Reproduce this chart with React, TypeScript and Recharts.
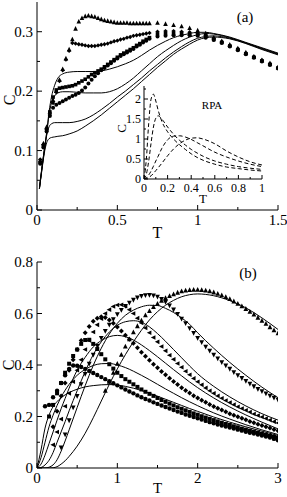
import React from 'react';
import { ComposedChart, Line, Scatter, XAxis, YAxis } from 'recharts';

const FONT = '"Liberation Serif", "Times New Roman", Times, serif';

// ---------------- Panel (a) : solid curves ----------------
const TA_L = [0.015,0.03,0.045,0.06,0.075,0.09,0.11,0.13,0.16,0.2,0.25,0.3,0.35,0.4,0.45,0.5,0.55,0.6,0.65,0.7,0.75,0.8,0.85,0.9,0.95,1.0,1.05,1.1,1.2,1.3,1.4,1.5];
const LA1 = [0.036,0.07,0.1,0.13,0.165,0.19,0.21,0.222,0.229,0.232,0.233,0.233,0.233,0.234,0.237,0.241,0.246,0.252,0.26,0.269,0.277,0.284,0.29,0.294,0.297,0.299,0.299,0.297,0.291,0.282,0.273,0.264];
const LA2 = [0.036,0.07,0.1,0.128,0.16,0.18,0.192,0.197,0.199,0.199,0.198,0.197,0.197,0.197,0.199,0.204,0.212,0.222,0.234,0.246,0.258,0.268,0.277,0.285,0.291,0.295,0.297,0.296,0.29,0.281,0.272,0.263];
const LA3 = [0.036,0.068,0.098,0.125,0.14,0.145,0.147,0.147,0.147,0.147,0.149,0.153,0.16,0.169,0.179,0.19,0.2,0.211,0.222,0.234,0.245,0.256,0.266,0.275,0.283,0.289,0.292,0.293,0.289,0.281,0.271,0.262];
const LA4 = [0.036,0.066,0.095,0.113,0.12,0.122,0.123,0.124,0.125,0.128,0.133,0.141,0.15,0.16,0.171,0.182,0.193,0.204,0.216,0.228,0.24,0.251,0.262,0.271,0.279,0.286,0.29,0.291,0.288,0.28,0.27,0.261];

// ---------------- Panel (a) : symbols ----------------
const TA_P = [0.02,0.04,0.06,0.08,0.1,0.12,0.14,0.16,0.18,0.2,0.22,0.24,0.26,0.28,0.3,0.32,0.34,0.36,0.38,0.4,0.42,0.44,0.46,0.48,0.5,0.52,0.54,0.56,0.58,0.6,0.62,0.64,0.66,0.68,0.7,0.75,0.8,0.85,0.9,0.95,1.0,1.05,1.1,1.15,1.2,1.25,1.3,1.35,1.4,1.45,1.5];
const MA_TRI = [0.083,0.112,0.14,0.165,0.185,0.2,0.219,0.237,0.255,0.27,0.287,0.305,0.317,0.323,0.326,0.327,0.326,0.325,0.323,0.321,0.319,0.318,0.317,0.316,0.315,0.315,0.315,0.315,0.314,0.314,0.314,0.314,0.314,0.314,0.314,0.315,0.313,0.311,0.309,0.306,0.302,0.297,0.29,0.284,0.278,0.272,0.265,0.258,0.252,0.247,0.24];
const MA_DIA = [0.085,0.11,0.136,0.16,0.18,0.198,0.217,0.235,0.253,0.268,0.281,0.28,0.279,0.278,0.277,0.276,0.276,0.276,0.277,0.278,0.279,0.28,0.282,0.284,0.285,0.287,0.288,0.29,0.291,0.293,0.294,0.295,0.296,0.297,0.298,0.3,0.301,0.301,0.3,0.299,0.297,0.294,0.289,0.283,0.277,0.271,0.264,0.258,0.252,0.246,0.24];
const MA_SQ = [0.08,0.108,0.135,0.165,0.19,0.202,0.205,0.206,0.207,0.208,0.209,0.211,0.214,0.217,0.22,0.224,0.228,0.231,0.234,0.237,0.241,0.245,0.249,0.253,0.257,0.261,0.264,0.267,0.27,0.273,0.277,0.28,0.284,0.287,0.29,0.296,0.297,0.297,0.297,0.296,0.295,0.292,0.287,0.282,0.276,0.27,0.263,0.257,0.251,0.245,0.239];
const MA_CIR = [0.078,0.105,0.132,0.158,0.172,0.177,0.18,0.183,0.186,0.189,0.192,0.194,0.197,0.201,0.206,0.213,0.219,0.225,0.23,0.235,0.239,0.243,0.247,0.251,0.255,0.259,0.262,0.265,0.268,0.271,0.275,0.278,0.282,0.285,0.288,0.292,0.293,0.294,0.294,0.294,0.293,0.29,0.286,0.281,0.275,0.269,0.262,0.256,0.25,0.244,0.238];

// ---------------- Inset (RPA) ----------------
const TI = [0,0.02,0.04,0.06,0.08,0.1,0.12,0.15,0.2,0.25,0.3,0.35,0.4,0.45,0.5,0.6,0.7,0.8,0.9,1.0];
const IA = [0,0.5,1.4,2.0,2.12,1.95,1.72,1.45,1.18,1.0,0.86,0.74,0.63,0.54,0.47,0.37,0.3,0.26,0.225,0.2];
const IB = [0,0.12,0.45,0.9,1.3,1.52,1.58,1.5,1.3,1.12,0.97,0.85,0.74,0.65,0.57,0.45,0.37,0.31,0.27,0.24];
const IC = [0,0.03,0.1,0.2,0.32,0.45,0.57,0.76,0.98,1.07,1.08,1.05,0.99,0.91,0.83,0.67,0.55,0.45,0.37,0.31];
const ID = [0,0.01,0.04,0.08,0.14,0.21,0.28,0.39,0.58,0.75,0.88,0.97,1.02,1.03,1.0,0.88,0.7,0.55,0.43,0.35];

// ---------------- Panel (b) : solid curves ----------------
const TB_L = [0,0.05,0.1,0.15,0.2,0.25,0.3,0.35,0.4,0.5,0.6,0.7,0.8,0.9,1.0,1.1,1.2,1.3,1.4,1.5,1.6,1.7,1.8,1.9,2.0,2.2,2.4,2.6,2.8,3.0];
const LB1 = [0,0.07,0.155,0.205,0.238,0.258,0.273,0.284,0.293,0.306,0.315,0.32,0.323,0.324,0.322,0.317,0.31,0.301,0.29,0.279,0.267,0.255,0.243,0.231,0.22,0.198,0.178,0.16,0.143,0.126];
const LB2 = [0,0.04,0.1,0.16,0.205,0.243,0.275,0.302,0.325,0.36,0.383,0.398,0.405,0.406,0.4,0.39,0.376,0.36,0.343,0.325,0.307,0.29,0.273,0.257,0.242,0.214,0.19,0.168,0.148,0.13];
const LB3 = [0,0.015,0.05,0.095,0.14,0.186,0.23,0.27,0.31,0.38,0.43,0.47,0.495,0.51,0.515,0.51,0.497,0.478,0.456,0.432,0.407,0.382,0.358,0.334,0.312,0.272,0.237,0.206,0.178,0.152];
const LB4 = [0,0.002,0.012,0.03,0.06,0.1,0.14,0.18,0.222,0.3,0.375,0.44,0.49,0.528,0.554,0.568,0.572,0.566,0.548,0.522,0.492,0.46,0.428,0.396,0.366,0.317,0.276,0.241,0.211,0.186];
const LB5 = [0,0,0,0.003,0.012,0.032,0.065,0.105,0.148,0.235,0.32,0.398,0.465,0.52,0.562,0.593,0.613,0.626,0.632,0.631,0.62,0.604,0.583,0.558,0.525,0.465,0.41,0.36,0.314,0.273];
const LB6 = [0,0,0,0,0.001,0.005,0.015,0.028,0.045,0.085,0.135,0.195,0.26,0.325,0.385,0.44,0.49,0.535,0.575,0.607,0.632,0.651,0.665,0.673,0.676,0.669,0.65,0.622,0.583,0.538];

// ---------------- Panel (b) : symbols ----------------
const TB_P = [0.1,0.15,0.2,0.25,0.3,0.35,0.4,0.45,0.5,0.55,0.6,0.65,0.7,0.75,0.8,0.85,0.9,0.95,1.0,1.05,1.1,1.15,1.2,1.25,1.3,1.35,1.4,1.45,1.5,1.55,1.6,1.65,1.7,1.75,1.8,1.85,1.9,1.95,2.0,2.05,2.1,2.15,2.2,2.25,2.3,2.35,2.4,2.45,2.5,2.55,2.6,2.65,2.7,2.75,2.8,2.85,2.9,2.95,3.0];
const MB1 = [0.24,0.245,0.275,0.3,0.33,0.36,0.385,0.398,0.397,0.392,0.385,0.377,0.369,0.361,0.353,0.345,0.337,0.329,0.321,0.313,0.305,0.297,0.29,0.282,0.275,0.268,0.262,0.255,0.249,0.243,0.237,0.231,0.225,0.219,0.214,0.208,0.203,0.198,0.193,0.188,0.183,0.178,0.174,0.169,0.165,0.161,0.157,0.153,0.149,0.145,0.141,0.137,0.134,0.13,0.126,0.122,0.118,0.113,0.108];
const MB2 = [null,0.2,0.245,0.29,0.33,0.37,0.405,0.435,0.46,0.482,0.497,0.498,0.482,0.462,0.442,0.422,0.403,0.386,0.37,0.357,0.345,0.335,0.325,0.315,0.305,0.296,0.288,0.28,0.272,0.264,0.257,0.25,0.243,0.236,0.23,0.224,0.218,0.212,0.207,0.201,0.196,0.191,0.186,0.181,0.176,0.171,0.167,0.162,0.158,0.153,0.149,0.145,0.141,0.137,0.133,0.129,0.125,0.121,0.117];
const MB3 = [null,null,0.16,0.22,0.28,0.33,0.38,0.42,0.46,0.495,0.525,0.55,0.57,0.582,0.587,0.584,0.575,0.562,0.548,0.532,0.516,0.5,0.484,0.467,0.45,0.434,0.418,0.403,0.389,0.375,0.362,0.349,0.336,0.324,0.312,0.301,0.291,0.281,0.272,0.263,0.255,0.247,0.239,0.232,0.225,0.218,0.211,0.205,0.199,0.193,0.187,0.181,0.176,0.17,0.165,0.16,0.155,0.15,0.145];
const MB4 = [null,null,0.09,0.14,0.19,0.24,0.29,0.335,0.38,0.42,0.46,0.495,0.528,0.556,0.58,0.6,0.615,0.627,0.633,0.634,0.628,0.615,0.6,0.582,0.563,0.544,0.525,0.507,0.49,0.472,0.455,0.438,0.422,0.406,0.391,0.376,0.362,0.348,0.335,0.323,0.311,0.3,0.29,0.28,0.271,0.262,0.254,0.246,0.238,0.231,0.224,0.217,0.21,0.204,0.198,0.192,0.186,0.18,0.175];
const MB5 = [null,null,null,null,0.08,0.13,0.185,0.235,0.28,0.325,0.365,0.405,0.44,0.475,0.505,0.532,0.556,0.578,0.597,0.614,0.629,0.642,0.653,0.662,0.668,0.671,0.672,0.67,0.665,0.656,0.645,0.631,0.615,0.598,0.58,0.562,0.543,0.524,0.505,0.488,0.471,0.455,0.44,0.425,0.411,0.398,0.385,0.372,0.36,0.349,0.338,0.327,0.317,0.307,0.298,0.289,0.281,0.273,0.265];
const MB6 = [null,null,null,null,null,null,null,null,null,null,null,null,null,null,null,0.3,0.335,0.37,0.405,0.44,0.472,0.5,0.527,0.551,0.573,0.593,0.61,0.625,0.638,0.65,0.66,0.668,0.675,0.681,0.686,0.689,0.691,0.692,0.692,0.691,0.689,0.686,0.682,0.677,0.671,0.664,0.656,0.647,0.638,0.628,0.618,0.607,0.596,0.584,0.572,0.56,0.547,0.535,0.523];

// ---------------- axis ticks ----------------
const A_XTICKS = [0,0.25,0.5,0.75,1,1.25,1.5];
const A_XMAJ = [0,0.5,1,1.5];
const A_YTICKS = [0,0.05,0.1,0.15,0.2,0.25,0.3];
const A_YMAJ = [0,0.1,0.2,0.3];
const B_XTICKS = [0,0.5,1,1.5,2,2.5,3];
const B_XMAJ = [0,1,2,3];
const B_YTICKS = [0,0.1,0.2,0.3,0.4,0.5,0.6,0.7,0.8];
const B_YMAJ = [0,0.2,0.4,0.6,0.8];
const I_XTICKS = [0,0.1,0.2,0.3,0.4,0.5,0.6,0.7,0.8,0.9,1];
const I_XMAJ = [0,0.2,0.4,0.6,0.8,1];
const I_YTICKS = [0,0.25,0.5,0.75,1,1.25,1.5,1.75,2,2.25];
const I_YMAJ = [0,0.5,1,1.5,2];

const pts = (xs: number[], ys: (number | null)[]) =>
  xs.map((x, i) => ({ x, y: ys[i] })).filter((p) => p.y !== null && p.y !== undefined);

// ---------------- symbol shapes ----------------
const K = '#000';
const circ = (r: number) => (p: any) => <circle cx={p.cx} cy={p.cy} r={r} fill={K} />;
const sq = (s: number) => (p: any) => <rect x={p.cx - s / 2} y={p.cy - s / 2} width={s} height={s} fill={K} />;
const dia = (s: number) => (p: any) => (
  <polygon points={`${p.cx},${p.cy - s / 2} ${p.cx + s / 2},${p.cy} ${p.cx},${p.cy + s / 2} ${p.cx - s / 2},${p.cy}`} fill={K} />
);
const triUp = (s: number) => (p: any) => (
  <polygon points={`${p.cx},${p.cy - s * 0.58} ${p.cx + s / 2},${p.cy + s * 0.42} ${p.cx - s / 2},${p.cy + s * 0.42}`} fill={K} />
);
const triDown = (s: number) => (p: any) => (
  <polygon points={`${p.cx},${p.cy + s * 0.58} ${p.cx + s / 2},${p.cy - s * 0.42} ${p.cx - s / 2},${p.cy - s * 0.42}`} fill={K} />
);
const triLeft = (s: number) => (p: any) => (
  <polygon points={`${p.cx - s * 0.58},${p.cy} ${p.cx + s * 0.42},${p.cy - s / 2} ${p.cx + s * 0.42},${p.cy + s / 2}`} fill={K} />
);

const txtStyle = (size: number): React.CSSProperties => ({ fontFamily: FONT, fontSize: size, fill: K });

// ---------------- tick renderer (inward ticks) ----------------
const isIn = (arr: number[], v: number) => arr.some((m) => Math.abs(m - v) < 1e-6);
const tick = (side: string, majors: number[], font: number, majLen: number, minLen: number, gap: number) => (props: any) => {
  const { x, y, payload } = props;
  const v = payload.value;
  const major = isIn(majors, v);
  const len = major ? majLen : minLen;
  const ls = { stroke: K, strokeWidth: 1 };
  if (side === 'bottom')
    return (
      <g>
        <line x1={x} y1={y} x2={x} y2={y - len} {...ls} />
        {major && gap > 0 ? (
          <text x={x} y={y + gap} textAnchor="middle" dominantBaseline="central" style={txtStyle(font)}>{String(v)}</text>
        ) : null}
      </g>
    );
  if (side === 'top') return <line x1={x} y1={y} x2={x} y2={y + len} {...ls} />;
  if (side === 'left')
    return (
      <g>
        <line x1={x} y1={y} x2={x + len} y2={y} {...ls} />
        {major && gap > 0 ? (
          <text x={x - gap} y={y} textAnchor="end" dominantBaseline="central" style={txtStyle(font)}>{String(v)}</text>
        ) : null}
      </g>
    );
  return <line x1={x} y1={y} x2={x - len} y2={y} {...ls} />;
};

const xLabel = (text: string, dy: number, size: number, dx = 0) => (p: any) => {
  const vb = p.viewBox;
  return (
    <text x={vb.x + vb.width / 2 + dx} y={vb.y + dy} textAnchor="middle" dominantBaseline="central" style={txtStyle(size)}>
      {text}
    </text>
  );
};
const yLabel = (text: string, dx: number, size: number, dy = 0) => (p: any) => {
  const vb = p.viewBox;
  const cx = vb.x + dx;
  const cy = vb.y + vb.height / 2 + dy;
  return (
    <text x={cx} y={cy} textAnchor="middle" dominantBaseline="central" style={txtStyle(size)} transform={`rotate(-90 ${cx} ${cy})`}>
      {text}
    </text>
  );
};

const AX = { stroke: K, strokeWidth: 1 };

export default function App() {
  return (
    <div style={{ position: 'absolute', left: 0, top: 0, width: 287, height: 497, background: '#fff' }}>
      {/* Panel (a) */}
      <div style={{ position: 'absolute', left: 0, top: 0 }}>
        <ComposedChart width={287} height={240} margin={{ top: 2, right: 9, bottom: 0, left: 0 }}>
          <XAxis xAxisId="b" dataKey="x" type="number" domain={[0, 1.5]} ticks={A_XTICKS} interval={0} height={30}
            axisLine={AX} tickLine={false} tickSize={0} tickMargin={0} tick={tick('bottom', A_XMAJ, 15, 5, 3, 10)}
            label={xLabel('T', 22, 16)} allowDataOverflow />
          <XAxis xAxisId="t" orientation="top" dataKey="x" type="number" domain={[0, 1.5]} ticks={A_XTICKS} interval={0} height={0}
            axisLine={AX} tickLine={false} tickSize={0} tickMargin={0} tick={tick('top', A_XMAJ, 15, 5, 3, 0)} allowDataOverflow />
          <YAxis yAxisId="l" type="number" domain={[0, 0.35]} ticks={A_YTICKS} interval={0} width={37}
            axisLine={AX} tickLine={false} tickSize={0} tickMargin={0} tick={tick('left', A_YMAJ, 15, 5, 3, 4)}
            label={yLabel('C', 9, 16, -6)} allowDataOverflow />
          <YAxis yAxisId="r" orientation="right" type="number" domain={[0, 0.35]} ticks={A_YTICKS} interval={0} width={0}
            axisLine={AX} tickLine={false} tickSize={0} tickMargin={0} tick={tick('right', A_YMAJ, 15, 5, 3, 0)} allowDataOverflow />
          {[LA1, LA2, LA3, LA4].map((ys, i) => (
            <Line key={'la' + i} xAxisId="b" yAxisId="l" data={pts(TA_L, ys)} dataKey="y" type="monotone" stroke={K}
              strokeWidth={1} dot={false} activeDot={false} isAnimationActive={false} />
          ))}
          <Scatter xAxisId="b" yAxisId="l" data={pts(TA_P, MA_CIR)} dataKey="y" shape={circ(2)} isAnimationActive={false} />
          <Scatter xAxisId="b" yAxisId="l" data={pts(TA_P, MA_SQ)} dataKey="y" shape={sq(3.6)} isAnimationActive={false} />
          <Scatter xAxisId="b" yAxisId="l" data={pts(TA_P, MA_DIA)} dataKey="y" shape={dia(4.4)} isAnimationActive={false} />
          <Scatter xAxisId="b" yAxisId="l" data={pts(TA_P, MA_TRI)} dataKey="y" shape={triUp(4.6)} isAnimationActive={false} />
        </ComposedChart>
      </div>

      {/* Inset */}
      <div style={{ position: 'absolute', left: 108, top: 82 }}>
        <ComposedChart width={160} height={130} margin={{ top: 4, right: 6, bottom: 0, left: 0 }}>
          <XAxis xAxisId="b" dataKey="x" type="number" domain={[0, 1]} ticks={I_XTICKS} interval={0} height={33}
            axisLine={AX} tickLine={false} tickSize={0} tickMargin={0} tick={tick('bottom', I_XMAJ, 12, 4, 2, 9)}
            label={xLabel('T', 19, 13)} allowDataOverflow />
          <XAxis xAxisId="t" orientation="top" dataKey="x" type="number" domain={[0, 1]} ticks={I_XTICKS} interval={0} height={0}
            axisLine={AX} tickLine={false} tickSize={0} tickMargin={0} tick={tick('top', I_XMAJ, 12, 4, 2, 0)} allowDataOverflow />
          <YAxis yAxisId="l" type="number" domain={[0, 2.325]} ticks={I_YTICKS} interval={0} width={36}
            axisLine={AX} tickLine={false} tickSize={0} tickMargin={0} tick={tick('left', I_YMAJ, 12, 4, 2, 3)}
            label={yLabel('C', 13, 13, -4)} allowDataOverflow />
          <YAxis yAxisId="r" orientation="right" type="number" domain={[0, 2.325]} ticks={I_YTICKS} interval={0} width={0}
            axisLine={AX} tickLine={false} tickSize={0} tickMargin={0} tick={tick('right', I_YMAJ, 12, 4, 2, 0)} allowDataOverflow />
          {[IA, IB, IC, ID].map((ys, i) => (
            <Line key={'ia' + i} xAxisId="b" yAxisId="l" data={pts(TI, ys)} dataKey="y" type="monotone" stroke={K}
              strokeWidth={1} strokeDasharray="4 2.5" dot={false} activeDot={false} isAnimationActive={false} />
          ))}
        </ComposedChart>
      </div>

      {/* Panel (b) */}
      <div style={{ position: 'absolute', left: 0, top: 240 }}>
        <ComposedChart width={287} height={257} margin={{ top: 22, right: 9, bottom: 0, left: 0 }}>
          <XAxis xAxisId="b" dataKey="x" type="number" domain={[0, 3]} ticks={B_XTICKS} interval={0} height={29}
            axisLine={AX} tickLine={false} tickSize={0} tickMargin={0} tick={tick('bottom', B_XMAJ, 15, 5, 3, 10)}
            label={xLabel('T', 20, 15)} allowDataOverflow />
          <XAxis xAxisId="t" orientation="top" dataKey="x" type="number" domain={[0, 3]} ticks={B_XTICKS} interval={0} height={0}
            axisLine={AX} tickLine={false} tickSize={0} tickMargin={0} tick={tick('top', B_XMAJ, 15, 5, 3, 0)} allowDataOverflow />
          <YAxis yAxisId="l" type="number" domain={[0, 0.8]} ticks={B_YTICKS} interval={0} width={37}
            axisLine={AX} tickLine={false} tickSize={0} tickMargin={0} tick={tick('left', B_YMAJ, 15, 5, 3, 4)}
            label={yLabel('C', 8, 16)} allowDataOverflow />
          <YAxis yAxisId="r" orientation="right" type="number" domain={[0, 0.8]} ticks={B_YTICKS} interval={0} width={0}
            axisLine={AX} tickLine={false} tickSize={0} tickMargin={0} tick={tick('right', B_YMAJ, 15, 5, 3, 0)} allowDataOverflow />
          {[LB1, LB2, LB3, LB4, LB5, LB6].map((ys, i) => (
            <Line key={'lb' + i} xAxisId="b" yAxisId="l" data={pts(TB_L, ys)} dataKey="y" type="monotone" stroke={K}
              strokeWidth={1} dot={false} activeDot={false} isAnimationActive={false} />
          ))}
          <Scatter xAxisId="b" yAxisId="l" data={pts(TB_P, MB1)} dataKey="y" shape={circ(2.2)} isAnimationActive={false} />
          <Scatter xAxisId="b" yAxisId="l" data={pts(TB_P, MB2)} dataKey="y" shape={sq(4)} isAnimationActive={false} />
          <Scatter xAxisId="b" yAxisId="l" data={pts(TB_P, MB3)} dataKey="y" shape={dia(5)} isAnimationActive={false} />
          <Scatter xAxisId="b" yAxisId="l" data={pts(TB_P, MB4)} dataKey="y" shape={triLeft(4.6)} isAnimationActive={false} />
          <Scatter xAxisId="b" yAxisId="l" data={pts(TB_P, MB5)} dataKey="y" shape={triDown(4.8)} isAnimationActive={false} />
          <Scatter xAxisId="b" yAxisId="l" data={pts(TB_P, MB6)} dataKey="y" shape={triUp(4.8)} isAnimationActive={false} />
        </ComposedChart>
      </div>

      {/* annotations */}
      <svg width={287} height={497} style={{ position: 'absolute', left: 0, top: 0, pointerEvents: 'none' }}>
        <text x={245} y={17} textAnchor="middle" dominantBaseline="central" style={txtStyle(15)}>(a)</text>
        <text x={212} y={105} textAnchor="middle" dominantBaseline="central" style={txtStyle(11)}>RPA</text>
        <text x={248} y={273} textAnchor="middle" dominantBaseline="central" style={txtStyle(15)}>(b)</text>
      </svg>
    </div>
  );
}
